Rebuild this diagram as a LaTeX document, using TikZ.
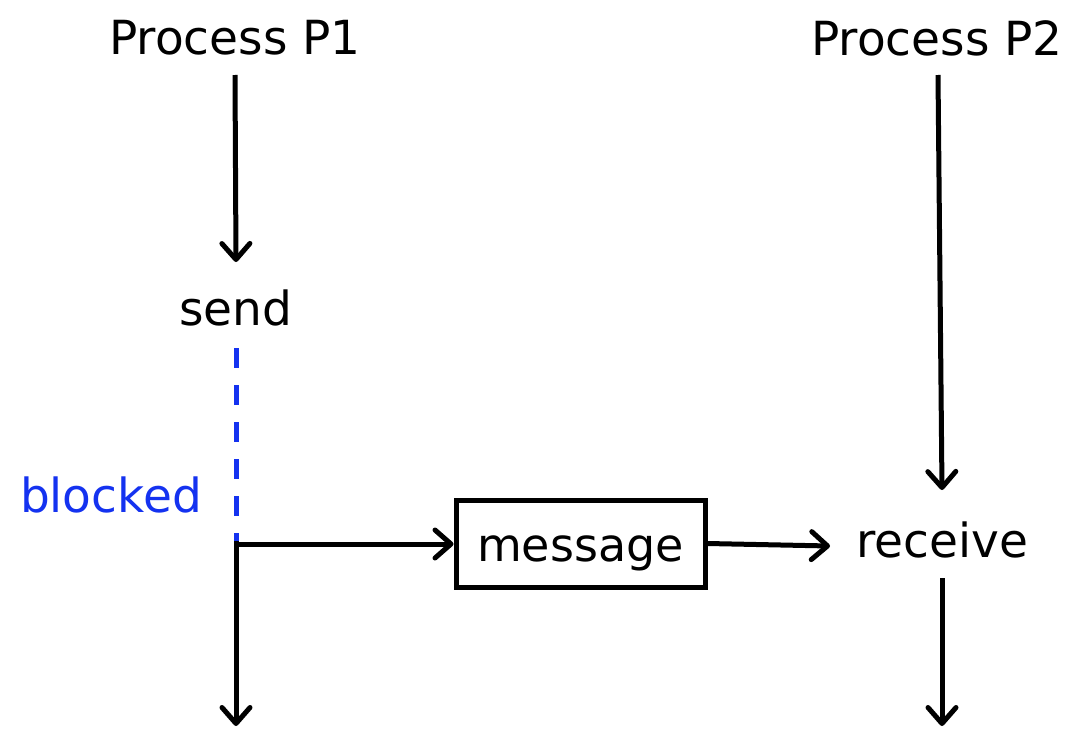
\documentclass[tikz,border=0pt]{standalone}
\usepackage{fontspec}
\setmainfont{DejaVu Sans}
\usetikzlibrary{arrows.meta}
\definecolor{blockblue}{RGB}{20,50,240}
\begin{document}
\begin{tikzpicture}[x=1pt,y=-1pt,
  flow/.style={line width=5pt,-{Straight Barb[length=16pt,width=28pt,line cap=round,line join=round]}},
  lbl/.style={font=\fontsize{47}{50}\selectfont,inner sep=0pt},
  msgbox/.style={draw,line width=5pt,minimum width=249pt,minimum height=87pt,inner sep=0pt}]
\useasboundingbox (0,0) rectangle (1075,728);
% process headers
\node[lbl] (p1) at (235,38) {Process P1};
\node[lbl] (p2) at (937,38) {Process P2};
% events
\node[lbl] (send) at (236,308) {send};
\node[lbl] (recv) at (942,540) {receive};
\node[lbl,text=blockblue,anchor=east] (blk) at (202,495) {blocked};
\node[msgbox] (msg) at (580.5,543.5) {};
\node[lbl,font=\fontsize{46}{50}\selectfont] (msgtxt) at ([yshift=-10pt]msg.center) {message};
% key points on the time lines
\coordinate (bstart) at (236,348);
\coordinate (corner) at (236,544);
\coordinate (p1end) at (236,726);
\coordinate (p2end) at (942,726);
% process P1 time line
\draw[flow] (p1.south |- 0,75) -- (236,262);
\draw[blockblue,line width=5pt,dash pattern=on 20pt off 17pt] (bstart) -- (corner);
\draw[flow] (corner) -- (msg.west |- corner);
\draw[line width=5pt] (236,541) -- (corner);
\draw[flow] (corner) -- (p1end);
% message delivery
\draw[flow] (msg.east) -- (830,546);
% process P2 time line
\draw[flow] (938,75) -- (942,490);
\draw[flow] (942,578) -- (p2end);
\end{tikzpicture}
\end{document}
